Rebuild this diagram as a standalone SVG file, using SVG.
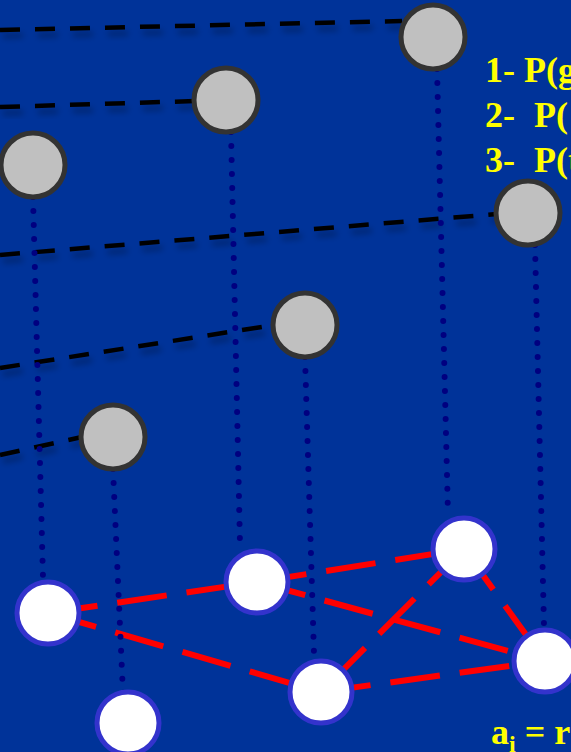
<svg xmlns="http://www.w3.org/2000/svg" width="571" height="752" viewBox="0 0 571 752">
<style>
.bk{fill:none;stroke:#000;stroke-width:4.5;stroke-dasharray:20 15;filter:url(#sh)}
.dt{fill:none;stroke:#000080;stroke-width:6;stroke-linecap:round;stroke-dasharray:0 14}
.rd{fill:none;stroke:#FF0000;stroke-width:6;stroke-dasharray:50 20}
.g{fill:#C0C0C0;stroke:#333333;stroke-width:5}
.w{fill:#FFFFFF;stroke:#3333CC;stroke-width:5}
.t{font-family:"Liberation Serif",serif;font-weight:bold;font-size:36px;fill:#FFFF00}
</style>
<defs>
<filter id="sh" x="-10%" y="-200%" width="120%" height="500%">
<feGaussianBlur in="SourceAlpha" stdDeviation="3"/>
<feOffset dx="3" dy="6" result="b"/>
<feComponentTransfer><feFuncA type="linear" slope="0.3"/></feComponentTransfer>
<feMerge><feMergeNode/><feMergeNode in="SourceGraphic"/></feMerge>
</filter>
</defs>
<rect width="571" height="752" fill="#003399"/>
<g id="connectors">
<line class="bk" x1="0" y1="30" x2="402" y2="21"/>
<line class="bk" x1="0" y1="107" x2="196" y2="101"/>
<line class="bk" x1="0" y1="255" x2="497" y2="214"/>
<line class="bk" x1="0" y1="368" x2="274" y2="325"/>
<line class="bk" x1="0" y1="455" x2="82" y2="437"/>
<line class="rd" x1="48" y1="613" x2="257" y2="582"/>
<line class="rd" x1="48" y1="613" x2="321" y2="692"/>
<line class="rd" x1="257" y1="582" x2="464" y2="549"/>
<line class="rd" x1="257" y1="582" x2="545" y2="661"/>
<line class="rd" x1="464" y1="549" x2="321" y2="692"/>
<line class="rd" x1="464" y1="549" x2="545" y2="661"/>
<line class="rd" x1="321" y1="692" x2="545" y2="661"/>
<line class="dt" x1="437" y1="69" x2="448" y2="515"/>
<line class="dt" x1="231" y1="132" x2="240" y2="545"/>
<line class="dt" x1="33" y1="197" x2="43" y2="578"/>
<line class="dt" x1="535" y1="245" x2="544" y2="626"/>
<line class="dt" x1="305" y1="357" x2="314" y2="654"/>
<line class="dt" x1="113" y1="469" x2="123" y2="694"/>
</g>
<g id="g1"><circle class="g" cx="433" cy="37" r="32"/></g>
<g id="g2"><circle class="g" cx="226" cy="100" r="32"/></g>
<g id="g3"><circle class="g" cx="33" cy="165" r="32"/></g>
<g id="g4"><circle class="g" cx="528" cy="213" r="32"/></g>
<g id="g5"><circle class="g" cx="305" cy="325" r="32"/></g>
<g id="g6"><circle class="g" cx="113" cy="437" r="32"/></g>
<g id="w1"><circle class="w" cx="48" cy="613" r="31"/></g>
<g id="w2"><circle class="w" cx="257" cy="582" r="31"/></g>
<g id="w3"><circle class="w" cx="464" cy="549" r="31"/></g>
<g id="w4"><circle class="w" cx="545" cy="661" r="31"/></g>
<g id="w5"><circle class="w" cx="321" cy="692" r="31"/></g>
<g id="w6"><circle class="w" cx="128" cy="723" r="31"/></g>
<g id="text">
<text class="t" x="485" y="82">1- P(g</text>
<text class="t" y="127"><tspan x="485">2-</tspan><tspan x="534">P(</tspan></text>
<text class="t" y="172"><tspan x="485">3-</tspan><tspan x="534">P(t</tspan></text>
<text class="t" x="491" y="744">a<tspan font-size="24" dy="8">i</tspan><tspan dy="-8"> = r</tspan></text>
</g>
</svg>
